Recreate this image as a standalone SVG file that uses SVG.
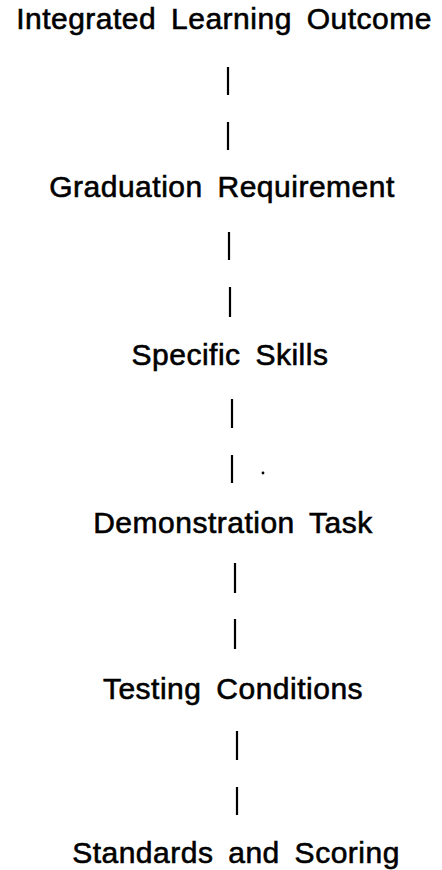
<svg xmlns="http://www.w3.org/2000/svg" width="442" height="870" viewBox="0 0 442 870">
<style>
.lbl{font-family:"Liberation Sans",Arial,sans-serif;font-size:30px;fill:#000;stroke:#000;stroke-width:0.6px;text-anchor:middle;letter-spacing:0.5px;word-spacing:6px}
.bar{stroke:#000;stroke-width:2.2;fill:none}
</style>
<rect width="442" height="870" fill="#fff"/>
<g id="connectors">
<line class="bar" x1="228" y1="67" x2="228" y2="95"/>
<line class="bar" x1="228" y1="122" x2="228" y2="150"/>
<line class="bar" x1="229" y1="232" x2="229" y2="260"/>
<line class="bar" x1="230" y1="287" x2="230" y2="317"/>
<line class="bar" x1="232" y1="399" x2="232" y2="428"/>
<line class="bar" x1="232" y1="455" x2="232" y2="483"/>
<line class="bar" x1="235" y1="563" x2="235" y2="593"/>
<line class="bar" x1="235" y1="619" x2="235" y2="649"/>
<line class="bar" x1="237" y1="731" x2="237" y2="760"/>
<line class="bar" x1="237" y1="787" x2="237" y2="815"/>
<circle cx="263" cy="473" r="1.4" fill="#000"/>
</g>
<g id="n1"><text class="lbl" x="224" y="29">Integrated Learning Outcome</text></g>
<g id="n2"><text class="lbl" x="222" y="197">Graduation Requirement</text></g>
<g id="n3"><text class="lbl" x="230" y="365">Specific Skills</text></g>
<g id="n4"><text class="lbl" x="233" y="533">Demonstration Task</text></g>
<g id="n5"><text class="lbl" x="233" y="699">Testing Conditions</text></g>
<g id="n6"><text class="lbl" x="236" y="863">Standards and Scoring</text></g>
</svg>
